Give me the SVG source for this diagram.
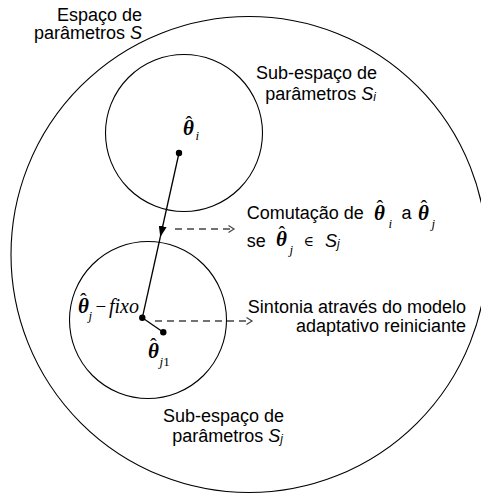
<svg xmlns="http://www.w3.org/2000/svg" width="481" height="496" viewBox="0 0 481 496">
<defs>
<style>
.lbl{font-family:"Liberation Sans",Arial,sans-serif;font-size:18px;fill:#000}
.th{font-family:"Liberation Serif","Times New Roman",serif;font-style:italic;font-size:21px;fill:#000}
.tb{font-weight:bold}
.hat{font-style:normal;font-size:20px;font-weight:normal}
.sb{font-size:13px;font-weight:normal}
.ring{fill:none;stroke:#000;stroke-width:1.1}
.dot{fill:#000}
.solid{fill:none;stroke:#000;stroke-width:1.3}
.dash{fill:none;stroke:#444;stroke-width:1.5;stroke-dasharray:7 5}
</style>
<marker id="tri" markerWidth="12" markerHeight="8" refX="11" refY="4" orient="auto" markerUnits="userSpaceOnUse">
<path d="M0,0 L11,4 L0,8 Z" fill="#000"/>
</marker>
<marker id="chev" markerWidth="8" markerHeight="9" refX="6.5" refY="4.5" orient="auto" markerUnits="userSpaceOnUse">
<path d="M1,1 L6.5,4.5 L1,8" fill="none" stroke="#444" stroke-width="1.2"/>
</marker>
</defs>
<rect width="481" height="496" fill="#fff"/>

<g id="space-S">
<circle class="ring" cx="249" cy="254.5" r="238"/>
<text class="lbl" x="142" y="20.5" text-anchor="end">Espaço de</text>
<text class="lbl" x="142" y="39" text-anchor="end">parâmetros <tspan font-style="italic">S</tspan></text>
</g>

<g id="subspace-Si">
<circle class="ring" cx="184" cy="133" r="78.5"/>
<text class="lbl" x="377" y="78.5" text-anchor="end">Sub-espaço de</text>
<text class="lbl" x="376" y="99.5" text-anchor="end">parâmetros <tspan font-style="italic">S</tspan><tspan font-style="italic" font-size="12" dy="1.5">i</tspan></text>
</g>

<g id="theta-i">
<text class="th"><tspan class="tb" x="183" y="135">θ</tspan><tspan class="hat" x="185.5" y="131">ˆ</tspan><tspan class="sb" x="195.5" y="140">i</tspan></text>
<circle class="dot" cx="179" cy="153" r="3.2"/>
</g>

<g id="subspace-Sj">
<circle class="ring" cx="148" cy="320" r="78.5"/>
<text class="lbl" x="284" y="421.5" text-anchor="end">Sub-espaço de</text>
<text class="lbl" x="283" y="441.5" text-anchor="end">parâmetros <tspan font-style="italic">S</tspan><tspan font-style="italic" font-size="12" dy="1.5">j</tspan></text>
</g>

<g id="theta-j-fixo">
<text class="th"><tspan class="tb" x="78" y="313">θ</tspan><tspan class="hat" x="80" y="308">ˆ</tspan><tspan class="sb" x="88.5" y="319.5">j</tspan><tspan x="95.5" y="313" font-style="normal" font-size="19">−</tspan><tspan x="109" y="313" font-size="20">fixo</tspan></text>
<circle class="dot" cx="142.3" cy="317.8" r="3.2"/>
</g>

<g id="theta-j1">
<text class="th"><tspan class="tb" x="148" y="358">θ</tspan><tspan class="hat" x="150" y="353">ˆ</tspan><tspan class="sb" x="159.5" y="366">j<tspan font-style="normal">1</tspan></tspan></text>
<circle class="dot" cx="163.3" cy="332.3" r="3.2"/>
</g>

<g id="switch-label">
<text class="lbl" x="246.7" y="218.5">Comutação de</text>
<text class="th"><tspan class="tb" x="374" y="220">θ</tspan><tspan class="hat" x="376.5" y="215">ˆ</tspan><tspan class="sb" x="388.5" y="228">i</tspan></text>
<text class="lbl" x="401.5" y="218.5">a</text>
<text class="th"><tspan class="tb" x="418" y="220">θ</tspan><tspan class="hat" x="420.5" y="215">ˆ</tspan><tspan class="sb" x="431.5" y="228">j</tspan></text>
<text class="lbl" x="246.7" y="246.5">se</text>
<text class="th"><tspan class="tb" x="276" y="246">θ</tspan><tspan class="hat" x="278.5" y="241">ˆ</tspan><tspan class="sb" x="289.5" y="254">j</tspan></text>
<text x="303.5" y="245.5" font-family="'DejaVu Serif','Liberation Serif',serif" font-size="14">∈</text>
<text class="lbl" x="325" y="246.5" font-style="italic">S<tspan font-size="12" dy="1.5">j</tspan></text>
</g>

<g id="tuning-label">
<text class="lbl" x="466" y="313" text-anchor="end">Sintonia através do modelo</text>
<text class="lbl" x="466" y="332" text-anchor="end">adaptativo reiniciante</text>
</g>

<g id="connectors">
<line class="solid" x1="179" y1="153" x2="160.3" y2="237" marker-end="url(#tri)"/>
<line class="solid" x1="160.3" y1="237" x2="142.3" y2="317.8"/>
<line class="solid" x1="142.3" y1="317.8" x2="163.3" y2="332.3"/>
<line class="dash" x1="175" y1="229" x2="234" y2="229" marker-end="url(#chev)"/>
<line class="dash" x1="155" y1="321" x2="252" y2="321" marker-end="url(#chev)"/>
</g>
</svg>
